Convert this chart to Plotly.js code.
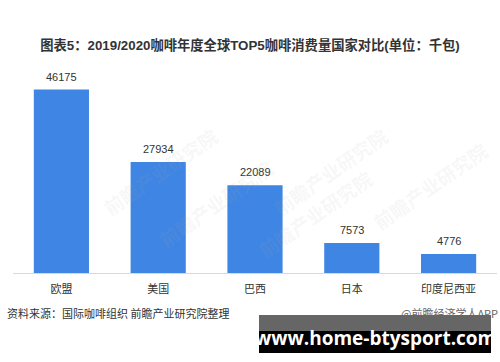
<!DOCTYPE html>
<html><head><meta charset="utf-8">
<script src="https://cdn.plot.ly/plotly-3.0.1.min.js"></script>
<style>html,body{margin:0;padding:0;background:#fff}#chart{width:500px;height:362px}</style>
</head><body><div id="chart"></div>
<script>
const categories = ['欧盟','美国','巴西','日本','印度尼西亚'];
const values = [46175, 27934, 22089, 7573, 4776];
const valueLabels = ['46175','27934','22089','7573','4776'];
const titleText = '图表5：2019/2020咖啡年度全球TOP5咖啡消费量国家对比(单位：千包)';
const sourceText = '资料来源：国际咖啡组织 前瞻产业研究院整理';
const creditText = '@前瞻经济学人APP';
const siteText = 'www.home-btysport.com';
const wmText = '前瞻产业研究院';

const W = 500, H = 362, L = 13, R = 3, T = 80, B = 89;
const pw = W - L - R, ph = H - T - B;
const px = x => (x - L) / pw;
const py = y => (H - B - y) / ph;

const wmPos = [[95,120],[150,255],[330,120],[380,265],[495,185]];
const annotations = [
  {text:sourceText, xref:'paper', yref:'paper', x:px(5), y:py(313), xanchor:'left', yanchor:'middle', showarrow:false, font:{size:11, color:'#333', family:'Noto Sans CJK SC'}},
  {text:creditText, xref:'paper', yref:'paper', x:px(500), y:py(313), xanchor:'right', yanchor:'middle', showarrow:false, font:{size:11, color:'#666', family:'Noto Sans CJK SC'}},
  {text:'<b>'+siteText+'</b>', xref:'paper', yref:'paper', x:px(375), y:py(338), xanchor:'center', yanchor:'middle', showarrow:false, font:{size:19, color:'#fff', family:'Open Sans, DejaVu Sans'}}
];
categories.forEach((c, i) => annotations.push({text:valueLabels[i], x:c, y:values[i], xref:'x', yref:'y', yanchor:'bottom', yshift:5, showarrow:false, font:{size:11, color:'#333', family:'Liberation Sans, Arial'}}));
wmPos.forEach(p => annotations.push({text:'<b>'+wmText+'</b>', xref:'paper', yref:'paper', x:px(p[0]), y:py(p[1]), showarrow:false, textangle:-35, font:{size:19, color:'rgba(170,170,170,0.10)', family:'Noto Sans CJK SC'}}));

Plotly.newPlot('chart', [{
  type:'bar', x:categories, y:values, marker:{color:'#3F85E3'}, hoverinfo:'none'
}], {
  width:W, height:H, margin:{l:L, r:R, t:T, b:B},
  paper_bgcolor:'#fff', plot_bgcolor:'#fff',
  bargap:0.43, showlegend:false,
  title:{text:'<b>'+titleText+'</b>', x:0.5, xanchor:'center', y:1-45/H, yanchor:'middle', font:{size:13.3, color:'#333', family:'Liberation Sans, Noto Sans CJK SC'}},
  xaxis:{showline:true, linecolor:'#d9d9d9', linewidth:1, ticks:'', ticklabelstandoff:6, tickfont:{size:11, color:'#333', family:'Noto Sans CJK SC'}, fixedrange:true},
  yaxis:{range:[0, 48566], visible:false, showgrid:false, zeroline:false, fixedrange:true},
  shapes:[
    {type:'rect', xref:'paper', yref:'paper', x0:px(259), x1:px(491), y0:py(315), y1:py(331), fillcolor:'#666', line:{width:0}, layer:'above'},
    {type:'rect', xref:'paper', yref:'paper', x0:px(259), x1:px(491), y0:py(331), y1:py(353), fillcolor:'#000', line:{width:0}, layer:'above'}
  ],
  annotations:annotations
}, {displayModeBar:false, staticPlot:true});
</script></body></html>
